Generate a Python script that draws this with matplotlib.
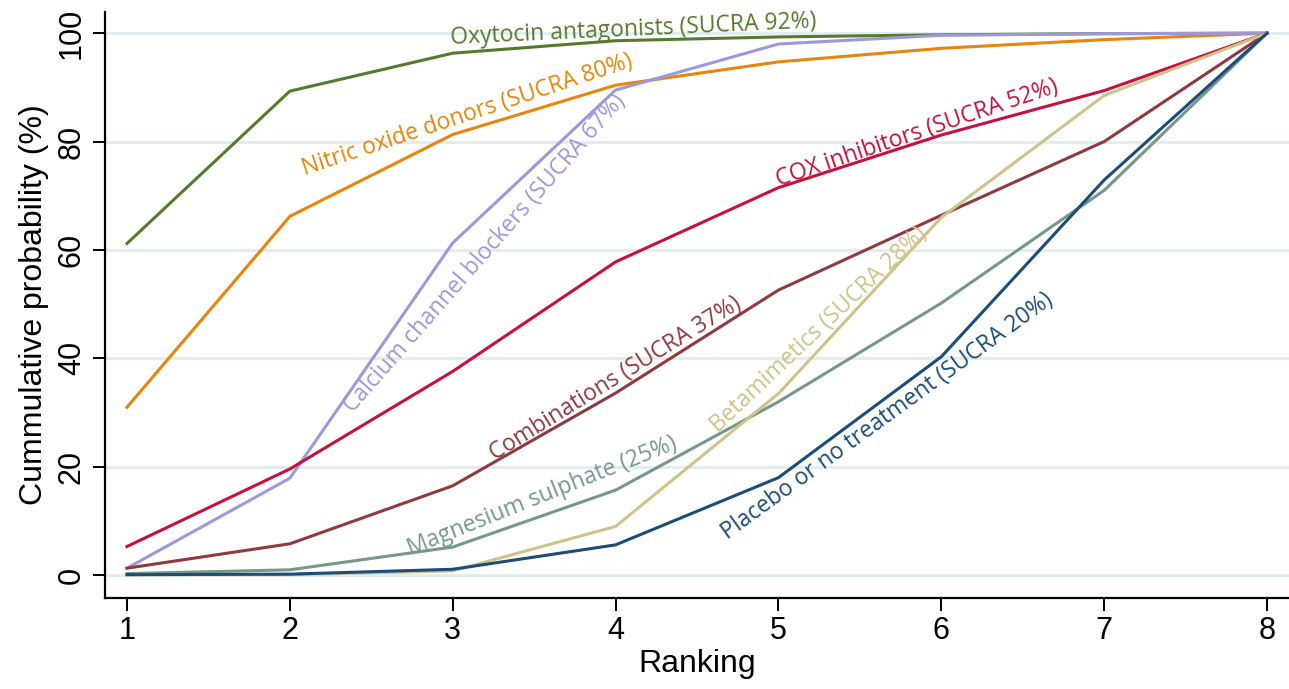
import numpy as np, matplotlib
matplotlib.use('Agg'); import matplotlib.pyplot as plt

rank = [1, 2, 3, 4, 5, 6, 7, 8]
oxytocin = [61.2, 89.3, 96.3, 98.6, 99.3, 99.7, 99.9, 100]
nitric = [31.0, 66.2, 81.3, 90.4, 94.7, 97.2, 98.8, 100]
calcium = [1.3, 17.9, 61.3, 89.5, 98.0, 99.6, 99.9, 100]
cox = [5.3, 19.6, 37.6, 57.8, 71.5, 81.2, 89.4, 100]
combos = [1.3, 5.8, 16.5, 33.6, 52.6, 66.4, 80.0, 100]
magnesium = [0.3, 1.0, 5.2, 15.7, 32.0, 50.2, 71.0, 100]
betamim = [0.1, 0.1, 0.8, 9.0, 33.5, 66.0, 88.5, 100]
placebo = [0.1, 0.2, 1.1, 5.6, 18.0, 40.3, 72.9, 100]

names = ['Oxytocin antagonists (SUCRA 92%)', 'Nitric oxide donors (SUCRA 80%)',
         'Calcium channel blockers (SUCRA 67%)', 'COX inhibitors (SUCRA 52%)',
         'Combinations (SUCRA 37%)', 'Magnesium sulphate (25%)',
         'Betamimetics (SUCRA 28%)', 'Placebo or no treatment (SUCRA 20%)']
series = [oxytocin, nitric, calcium, cox, combos, magnesium, betamim, placebo]
colors = ['#557a2e', '#e8850c', '#9d98dc', '#c8103e', '#8e3a3f', '#76978b', '#cdc48a', '#1c4c78']
# label placement (data coords) and angle in degrees
lab_xy = [(4.11, 100.6), (3.09, 84.9), (3.2, 59.4), (5.85, 81.6), (4.0, 36.2), (3.55, 14.6), (5.25, 45.2), (5.67, 29.3)]
lab_rot = [2.6, 18.3, 48.8, 18.6, 31.8, 21.8, 43.4, 36.0]

fig = plt.figure(figsize=(12.89, 6.89), dpi=100)
ax = fig.add_axes([105/1289, 1-598/689, 1-105/1289, (598-12)/689])
for v in range(0, 101, 20):
    ax.axhline(v, color='#e3ecee', lw=2.2, zorder=0)
for y, c in zip(series, colors):
    ax.plot(rank, y, color=c, lw=2.2, solid_joinstyle='miter', zorder=2)
for n, c, (x, y), r in zip(names, colors, lab_xy, lab_rot):
    ax.text(x, y, n, color=c, rotation=r, rotation_mode='anchor', ha='center', va='center',
            fontsize=16.5, family=['Open Sans', 'DejaVu Sans'], zorder=3)

ax.set_xlim(0.865, 8.135); ax.set_ylim(-4.2, 103.9)
ax.set_xticks(rank); ax.set_yticks(range(0, 101, 20))
narrow = ['Liberation Sans Narrow', 'Liberation Sans']
for s in ['top', 'right']:
    ax.spines[s].set_visible(False)
for s in ['left', 'bottom']:
    ax.spines[s].set_linewidth(1.6)
ax.tick_params(length=9, width=1.4, labelsize=22, pad=4)
for lab in ax.get_xticklabels():
    lab.set_family(narrow)
for lab in ax.get_yticklabels():
    lab.set_family(narrow); lab.set_rotation(90); lab.set_va('center')
ax.set_xlabel('Ranking', fontsize=23, family=narrow, labelpad=2)
ax.set_ylabel('Cummulative probability (%)', fontsize=23, family=narrow, labelpad=6)
fig.savefig('out.png', dpi=100)
